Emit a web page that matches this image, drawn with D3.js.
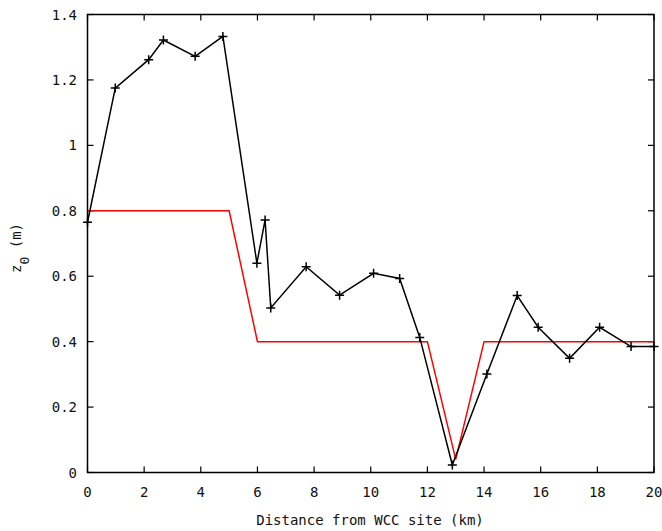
<!DOCTYPE html>
<html><head><meta charset="utf-8">
<script src="https://cdn.jsdelivr.net/npm/d3@7"></script>
<style>body{margin:0;background:#fff;} svg{display:block;}</style>
</head><body>
<svg id="chart" width="662" height="531"></svg>
<script>
const obsX = [0, 0.98, 2.16, 2.68, 3.8, 4.78, 5.98, 6.27, 6.47, 7.72, 8.9, 10.1, 11.02, 11.73, 12.88, 14.1, 15.17, 15.91, 17.02, 18.08, 19.19, 20];
const obsY = [0.765, 1.175, 1.262, 1.322, 1.272, 1.333, 0.64, 0.772, 0.503, 0.629, 0.542, 0.609, 0.593, 0.413, 0.023, 0.301, 0.541, 0.444, 0.349, 0.444, 0.385, 0.385];
const modelX = [0, 5, 6, 12, 13, 14, 20];
const modelY = [0.8, 0.8, 0.4, 0.4, 0.04, 0.4, 0.4];
const xTicks = [0, 2, 4, 6, 8, 10, 12, 14, 16, 18, 20];
const yTicks = [0, 0.2, 0.4, 0.6, 0.8, 1, 1.2, 1.4];
const yTickLabels = ["0", "0.2", "0.4", "0.6", "0.8", "1", "1.2", "1.4"];
const xLabel = "Distance from WCC site (km)";

const L = 87.5, R = 654, T = 14.5, B = 472.5;
const svg = d3.select("#chart");
const x = d3.scaleLinear().domain([0, 20]).range([L, R]);
const y = d3.scaleLinear().domain([0, 1.4]).range([B, T]);
const font = "'DejaVu Sans Mono', monospace";
const tl = 6;

// clip
svg.append("defs").append("clipPath").attr("id", "clip")
  .append("rect").attr("x", L - 6).attr("y", T).attr("width", R - L + 12).attr("height", B - T);

// ticks (inward, mirrored)
const tg = svg.append("g").attr("stroke", "#000").attr("stroke-width", 1.2);
xTicks.forEach(t => {
  tg.append("line").attr("x1", x(t)).attr("x2", x(t)).attr("y1", B).attr("y2", B - tl);
  tg.append("line").attr("x1", x(t)).attr("x2", x(t)).attr("y1", T).attr("y2", T + tl);
});
yTicks.forEach(t => {
  tg.append("line").attr("x1", L).attr("x2", L + tl).attr("y1", y(t)).attr("y2", y(t));
  tg.append("line").attr("x1", R).attr("x2", R - tl).attr("y1", y(t)).attr("y2", y(t));
});

// tick labels
svg.append("g").selectAll("text").data(xTicks).join("text")
  .attr("x", d => x(d)).attr("y", 497).attr("text-anchor", "middle")
  .attr("font-family", font).attr("font-size", 14).attr("fill", "#111").text(d => d);
svg.append("g").selectAll("text").data(yTicks).join("text")
  .attr("x", 77).attr("y", d => y(d) + 5).attr("text-anchor", "end")
  .attr("font-family", font).attr("font-size", 14).attr("fill", "#111")
  .text((d, i) => yTickLabels[i]);

// axis labels
svg.append("text").attr("x", 370).attr("y", 525).attr("text-anchor", "middle")
  .attr("font-family", font).attr("font-size", 14).attr("fill", "#111").text(xLabel);
const yl = svg.append("text").attr("transform", "translate(21,248) rotate(-90)")
  .attr("text-anchor", "middle").attr("font-family", font).attr("font-size", 14).attr("fill", "#111");
yl.append("tspan").text("z");
yl.append("tspan").attr("dy", 8).attr("font-size", 13).text("0");
yl.append("tspan").attr("dy", -8).text(" (m)");

const line = d3.line().x(d => x(d[0])).y(d => y(d[1]));
const g = svg.append("g").attr("clip-path", "url(#clip)");
g.append("path").datum(modelX.map((v, i) => [v, modelY[i]])).attr("d", line)
  .attr("fill", "none").attr("stroke", "#ff0000").attr("stroke-width", 1.5);
const obs = obsX.map((v, i) => [v, obsY[i]]);
g.append("path").datum(obs).attr("d", line)
  .attr("fill", "none").attr("stroke", "#000").attr("stroke-width", 1.5);
const ms = 4.5;
g.selectAll("path.m").data(obs).join("path").attr("class", "m")
  .attr("d", d => `M${x(d[0]) - ms},${y(d[1])}H${x(d[0]) + ms}M${x(d[0])},${y(d[1]) - ms}V${y(d[1]) + ms}`)
  .attr("stroke", "#000").attr("stroke-width", 1.5);

// frame
svg.append("rect").attr("x", L).attr("y", T).attr("width", R - L).attr("height", B - T)
  .attr("fill", "none").attr("stroke", "#000").attr("stroke-width", 1.5);
</script>
</body></html>
